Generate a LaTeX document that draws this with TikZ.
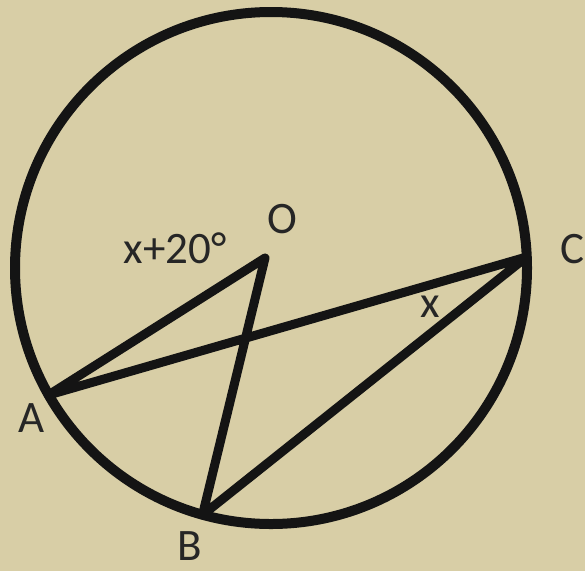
\documentclass[tikz,border=0pt]{standalone}
\usepackage{fontspec}
\setmainfont{Carlito}
\begin{document}
\begin{tikzpicture}[x=1pt,y=-1pt,
  seg/.style={line width=9pt,line cap=round,line join=round,draw=black!92},
  lbl/.style={anchor=base,inner sep=0pt,text depth=0pt,text=black!85,font=\fontsize{45}{45}\selectfont}]
\definecolor{parch}{RGB}{216,206,166}
\fill[parch] (0,0) rectangle (585,571);
\useasboundingbox (0,0) rectangle (585,571);
\coordinate (Oc) at (271,268);
\coordinate (O) at (265,258);
\coordinate (A) at (48.5,395);
\coordinate (B) at (202.5,515);
\coordinate (C) at (526.5,257);
\draw[seg,line width=10pt] (Oc) circle[radius=256];
\draw[seg] (A) -- (O) -- (B) -- (C) -- (A);
\node[lbl] (lO) at (282,233) {O};
\node[lbl] (lA) at (32,432) {A};
\node[lbl] (lB) at (190,560) {B};
\node[lbl] (lC) at (572,263) {C};
\node[lbl] (lang) at (175,263) {x+20°};
\node[lbl] (lx) at (430,317) {x};
\end{tikzpicture}
\end{document}
